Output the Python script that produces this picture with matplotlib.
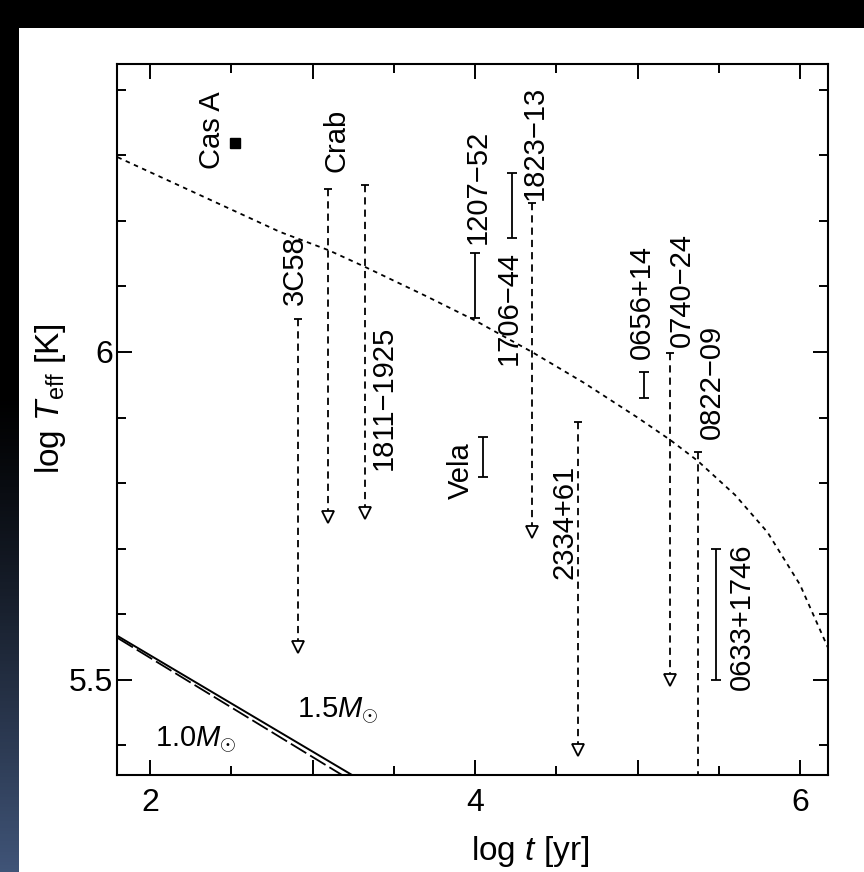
import numpy as np
import matplotlib
matplotlib.use("Agg")
import matplotlib.pyplot as plt
from matplotlib.ticker import MultipleLocator, FuncFormatter

plt.rcParams["font.family"] = ["Liberation Sans", "DejaVu Sans"]
plt.rcParams["mathtext.fontset"] = "custom"
plt.rcParams["mathtext.rm"] = "Liberation Sans"
plt.rcParams["mathtext.it"] = "Liberation Sans:italic"
plt.rcParams["mathtext.bf"] = "Liberation Sans:bold"

# --- data (log t [yr], log Teff [K]) ---
# upper limits: top value, lower end of arrow
ul_names = ["3C58", "Crab", "1811\u22121925", "1823\u221213", "2334+61", "0740\u221224", "0822\u221209"]
ul_x = [2.91, 3.095, 3.323, 4.35, 4.634, 5.20, 5.372]
ul_top = [6.05, 6.248, 6.255, 6.227, 5.893, 5.998, 5.848]
ul_bot = [5.55, 5.749, 5.755, 5.726, 5.393, 5.50, 5.30]

# detections with ranges
eb_names = ["1207\u221252", "1706\u221244", "Vela", "0656+14", "0633+1746"]
eb_x = [4.00, 4.228, 4.05, 5.04, 5.483]
eb_lo = [6.052, 6.174, 5.809, 5.930, 5.50]
eb_hi = [6.151, 6.273, 5.870, 5.970, 5.70]

casa_x = [2.523]
casa_y = [6.319]

# label positions (centre of rotated text)
lab_names = ["Cas A", "Crab", "3C58", "1811\u22121925", "1207\u221252", "1706\u221244",
             "1823\u221213", "0656+14", "0740\u221224", "0822\u221209", "0633+1746",
             "2334+61", "Vela"]
lab_x = [2.38, 3.145, 2.892, 3.44, 4.018, 4.209, 4.369, 5.028, 5.274, 5.458, 5.643, 4.548, 3.914]
lab_y = [6.338, 6.323, 6.125, 5.930, 6.252, 6.067, 6.319, 6.076, 6.095, 5.954, 5.596, 5.741, 5.819]

# standard cooling curve (dotted)
curve_x = [1.8, 2.3, 2.8, 3.1, 3.32, 3.7, 4.0, 4.35, 4.67, 5.0, 5.2, 5.37, 5.6, 5.8, 6.0, 6.17]
curve_y = [6.297, 6.240, 6.183, 6.155, 6.130, 6.085, 6.048, 6.0, 5.953, 5.900, 5.866, 5.834,
           5.782, 5.725, 5.645, 5.55]

# fast cooling curves for 1.5 and 1.0 Msun
fast15_x = [1.8, 3.4]
fast15_y = [5.567, 5.332]
fast10_x = [1.8, 3.4]
fast10_y = [5.564, 5.322]

FS_TICK = 23
FS_AXLAB = 24
FS_LAB = 21

fig = plt.figure(figsize=(8.64, 8.72), dpi=100)
fig.patch.set_facecolor("white")

# slide background: black top band + dark blue gradient strip on the left
bg = fig.add_axes([0, 0, 1, 1], zorder=-10)
bg.axis("off")
grad = np.linspace(0, 1, 256)
grad = np.clip((grad - 0.45) / 0.55, 0, 1) ** 1.2
strip = np.zeros((256, 1, 3))
strip[:, 0, 0] = 0.25 * grad
strip[:, 0, 1] = 0.33 * grad
strip[:, 0, 2] = 0.47 * grad
bg.imshow(strip, extent=[0, 19 / 864, 0, 1], aspect="auto", origin="upper")
bg.add_patch(plt.Rectangle((0, 1 - 28 / 872), 1, 28 / 872, color="black", lw=0))
bg.set_xlim(0, 1)
bg.set_ylim(0, 1)

ax = fig.add_axes([117 / 864, 97 / 872, 711 / 864, 711 / 872])
ax.set_xlim(1.797, 6.172)
ax.set_ylim(5.355, 6.439)

# dotted standard cooling curve
ax.plot(curve_x, curve_y, color="black", lw=1.3, dashes=(2.5, 2.5))
# fast cooling
ax.plot(fast15_x, fast15_y, color="black", lw=1.4)
ax.plot(fast10_x, fast10_y, color="black", lw=1.3, dashes=(10, 2.5))

# upper limits
for x, top, bot in zip(ul_x, ul_top, ul_bot):
    ax.plot([x, x], [top, bot], color="black", lw=1.3, dashes=(4, 2.8))
    ax.plot([x], [top], marker="_", ms=6, mew=1.3, color="black")
    ax.plot([x], [bot], marker="v", ms=8, mfc="white", mec="black", mew=1.3)

# ranges
for x, lo, hi in zip(eb_x, eb_lo, eb_hi):
    ax.errorbar([x], [(lo + hi) / 2], yerr=[[(hi - lo) / 2]], fmt="none",
                ecolor="black", elinewidth=1.3, capsize=3.5, capthick=1.3)

ax.plot(casa_x, casa_y, "s", color="black", ms=6.5)

for name, x, y in zip(lab_names, lab_x, lab_y):
    ax.text(x, y, name, rotation=90, ha="center", va="center", fontsize=FS_LAB)

ax.text(2.03, 5.4085, r"1.0$M_{\odot}$", fontsize=FS_LAB, ha="left", va="center")
ax.text(2.905, 5.454, r"1.5$M_{\odot}$", fontsize=FS_LAB, ha="left", va="center")

# axes styling
for s in ax.spines.values():
    s.set_linewidth(1.5)
ax.xaxis.set_major_locator(MultipleLocator(1))
ax.xaxis.set_minor_locator(MultipleLocator(0.5))
ax.xaxis.set_major_formatter(FuncFormatter(lambda v, p: f"{v:.0f}" if round(v) % 2 == 0 else ""))
ax.yaxis.set_major_locator(MultipleLocator(0.5))
ax.yaxis.set_minor_locator(MultipleLocator(0.1))
ax.yaxis.set_major_formatter(FuncFormatter(lambda v, p: f"{v:g}"))
ax.tick_params(which="both", direction="in", top=True, right=True, width=1.4,
               labelsize=FS_TICK)
ax.tick_params(which="major", length=11)
ax.tick_params(which="minor", length=6.5)
ax.tick_params(axis="x", pad=9)
ax.tick_params(axis="y", pad=3)

ax.set_xlabel(r"log $t$ [yr]", fontsize=FS_AXLAB)
ax.set_ylabel(r"log $T_{\rm eff}$ [K]", fontsize=FS_AXLAB)
ax.xaxis.set_label_coords(0.581, -0.083)
ax.yaxis.set_label_coords(-0.069, 0.53)

fig.savefig("out.png", dpi=100, facecolor=fig.get_facecolor())
